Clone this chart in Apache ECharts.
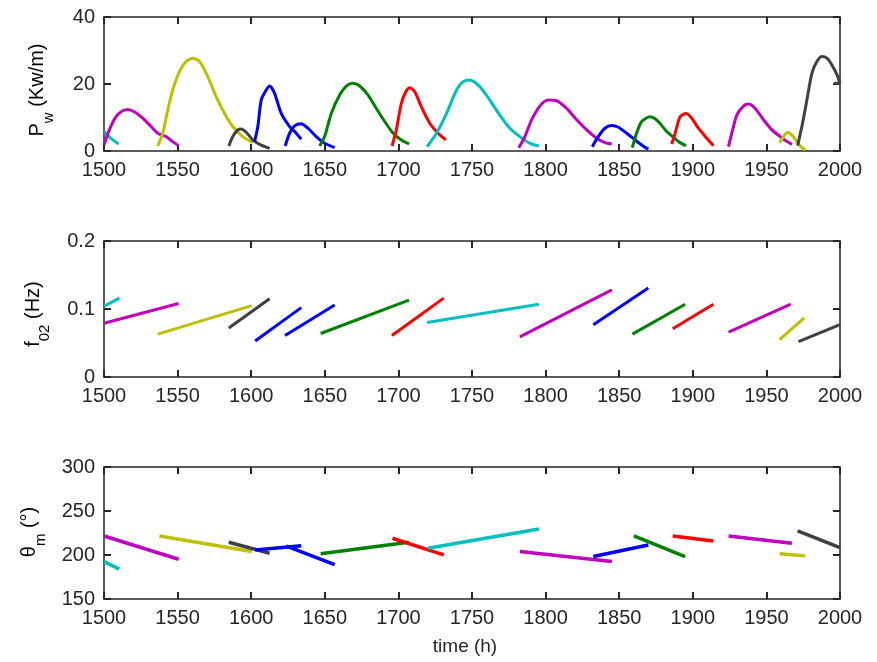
<!DOCTYPE html>
<html>
<head>
<meta charset="utf-8">
<script src="https://cdn.jsdelivr.net/npm/echarts@6/dist/echarts.min.js"></script>
<style>
  html, body { margin: 0; padding: 0; background: #fff; }
  #chart { width: 877px; height: 662px; }
</style>
</head>
<body>
<div id="chart"></div>
<script>
// Axis ranges: [min, max, interval]
const timeRange = [1500, 2000, 50];
const pwRange = [0, 40, 20];
const f02Range = [0, 0.2, 0.1];
const thetaRange = [150, 300, 50];

// Wave power P_w (kW/m) for each event: [hour, value]
const pwC1 = [[1500,5.8],[1504,4.0],[1510,2.1]];
const pwM1 = [[1500,1.8],[1503.6,6.3],[1508.1,10.2],[1512.7,12.0],[1516.1,12.4],[1520.6,11.7],[1526.3,9.8],[1532,7.3],[1536.5,5.3],[1542.2,4.3],[1546.7,2.8],[1550.7,1.6]];
const pwY1 = [[1536.5,1.5],[1539.9,5.3],[1543.3,12.2],[1546.7,18.2],[1551.2,23.7],[1555.8,26.7],[1560.3,27.7],[1564.9,26.7],[1570.5,22.2],[1576.2,16.2],[1581.9,11.2],[1587.5,7.3],[1594.3,4.3],[1601.1,2.5]];
const pwK1 = [[1584.8,1.5],[1587.5,4.3],[1590.9,6.3],[1593.2,6.6],[1596.6,5.6],[1601.1,3.3],[1605.7,2.0],[1612.5,0.8]];
const pwB1 = [[1602.3,2.8],[1604.5,7.3],[1606.8,15.2],[1610.2,18.2],[1612.5,19.4],[1615.9,17.2],[1620.4,11.2],[1626.1,7.3],[1630.6,5.3],[1634,3.5]];
const pwB2 = [[1623.1,1.5],[1626.1,5.3],[1629.5,7.5],[1634,8.1],[1638.5,6.8],[1644.2,4.3],[1649.9,2.3],[1656.7,1.0]];
const pwG1 = [[1646.5,1.5],[1649.9,4.3],[1654.4,11.2],[1660.1,16.7],[1664.6,19.4],[1669.2,20.2],[1673.7,19.4],[1679.4,16.7],[1685,12.7],[1690.7,8.8],[1696.4,5.3],[1702,3.3],[1707.3,2.1]];
const pwR1 = [[1695.7,1.5],[1698.6,6.3],[1702,14.2],[1705.4,18.0],[1707.7,18.9],[1711.1,17.7],[1715.6,13.2],[1721.3,8.3],[1727,5.3],[1732.2,3.3]];
const pwC2 = [[1719.5,1.3],[1725.9,5.3],[1732.7,11.2],[1739.5,18.2],[1744,20.7],[1748.5,21.2],[1755.3,19.2],[1762.1,15.2],[1768.9,10.7],[1775.7,6.8],[1782.5,4.3],[1789.3,2.3],[1795.4,1.5]];
const pwM2 = [[1781.8,1.0],[1785.9,4.3],[1790.5,9.3],[1796.1,13.4],[1801.8,15.2],[1807.5,15.0],[1814.3,12.7],[1821.1,9.3],[1827.9,6.3],[1834.7,3.8],[1840.3,2.5],[1844.9,2.1]];
const pwB3 = [[1831.7,1.3],[1835.8,4.3],[1840.3,6.8],[1844.9,7.6],[1849.4,7.1],[1855.1,5.3],[1860.8,3.3],[1865.3,1.8],[1869.8,0.5]];
const pwG2 = [[1858.9,1.0],[1861.8,5.3],[1865.3,8.8],[1870.9,10.2],[1876.6,8.8],[1882.3,5.8],[1886.8,4.1],[1891.3,2.5],[1895.4,1.6]];
const pwR2 = [[1885.7,2.1],[1888,5.3],[1891.4,10.2],[1895.4,11.2],[1899.3,9.8],[1903.8,6.8],[1909.5,3.8],[1914,1.6]];
const pwM3 = [[1924.2,1.3],[1926.5,5.3],[1929.9,10.7],[1934.4,13.4],[1937.9,14.0],[1942.4,12.7],[1948.1,9.3],[1953.7,6.3],[1959.4,4.3],[1964,2.8],[1967.3,2.0]];
const pwY2 = [[1958.9,2.5],[1961.6,4.3],[1964.4,5.6],[1967.3,4.8],[1970.7,2.8],[1973.4,1.3],[1976.4,0.3]];
const pwK2 = [[1971.2,1.6],[1974.1,7.3],[1977.5,15.2],[1980.9,23.2],[1984.3,26.7],[1987.7,28.2],[1991.1,27.7],[1994.5,25.7],[1998,22.7],[2000,20.2]];
const pwK2Tail = [[1996,20.2],[2000,20.2]];

// Peak frequency f02 (Hz) per event: [startHour, startValue, endHour, endValue]
const f02C1 = [1500, 0.104, 1510.4, 0.116];
const f02M1 = [1500, 0.079, 1550.7, 0.108];
const f02Y1 = [1536.5, 0.063, 1600.4, 0.105];
const f02K1 = [1584.8, 0.072, 1612.5, 0.115];
const f02B1 = [1602.7, 0.053, 1634, 0.102];
const f02B2 = [1623, 0.061, 1656.7, 0.106];
const f02G1 = [1647.2, 0.064, 1707.2, 0.113];
const f02R1 = [1695.6, 0.061, 1730.8, 0.116];
const f02C2 = [1719.5, 0.080, 1795.5, 0.107];
const f02M2 = [1782.5, 0.059, 1845, 0.128];
const f02B3 = [1832.4, 0.077, 1869.8, 0.131];
const f02G2 = [1859, 0.063, 1894.8, 0.107];
const f02R2 = [1886.4, 0.071, 1914, 0.107];
const f02M3 = [1924.3, 0.066, 1966.6, 0.107];
const f02Y2 = [1959, 0.055, 1975.7, 0.087];
const f02K2 = [1971.8, 0.052, 2000, 0.077];

// Mean direction theta_m (deg) per event: [startHour, startValue, endHour, endValue]
const thC1 = [1500, 192.5, 1510.4, 184];
const thM1 = [1500, 221.6, 1550.7, 195.2];
const thY1 = [1537.6, 221.6, 1600.4, 204];
const thK1 = [1584.8, 214.5, 1612.5, 202];
const thB1 = [1602.7, 205.8, 1634, 210.6];
const thB2 = [1624, 210, 1656.7, 189];
const thG1 = [1647.2, 201.3, 1707.2, 214.5];
const thR1 = [1696, 219, 1730.8, 200.1];
const thC2 = [1720, 207.7, 1795.5, 229.5];
const thM2 = [1782.5, 203.9, 1845, 192.5];
const thB3 = [1832.4, 198.2, 1869.8, 211.4];
const thG2 = [1860, 221.6, 1894.8, 198.2];
const thR2 = [1886.4, 221.6, 1914, 216];
const thM3 = [1924.3, 221.6, 1967.3, 213.3];
const thY2 = [1959, 201.3, 1976.4, 199];
const thK2 = [1971.2, 227.3, 2000, 208.3];

const pwEvents = [pwC1, pwM1, pwY1, pwK1, pwB1, pwB2, pwG1, pwR1, pwC2, pwM2, pwB3, pwG2, pwR2, pwM3, pwY2, pwK2, pwK2Tail];
const f02Events = [f02C1, f02M1, f02Y1, f02K1, f02B1, f02B2, f02G1, f02R1, f02C2, f02M2, f02B3, f02G2, f02R2, f02M3, f02Y2, f02K2];
const thEvents = [thC1, thM1, thY1, thK1, thB1, thB2, thG1, thR1, thC2, thM2, thB3, thG2, thR2, thM3, thY2, thK2];

// Line colours, one per event
const C = '#00BFBF', M = '#BF00BF', Y = '#BFBF00', K = '#404040', B = '#0000FF', G = '#008000', R = '#FF0000';
const eventColors = [C, M, Y, K, B, B, G, R, C, M, B, G, R, M, Y, K, K];

const FONT = 'Liberation Sans, Arial, sans-serif';
const INK = '#262626';

const grids = [
  { left: 104, top: 17, width: 736, height: 134 },
  { left: 104, top: 241, width: 736, height: 136 },
  { left: 104, top: 467, width: 736, height: 132 }
];

function plain(v) { return String(v); }

const axisLineStyle = { show: true, onZero: false, lineStyle: { color: INK, width: 1.5 } };
const axisTickStyle = { show: true, inside: true, length: 7, lineStyle: { color: INK, width: 2 } };

function xAxes(gi) {
  const base = {
    gridIndex: gi, type: 'value', min: timeRange[0], max: timeRange[1], interval: timeRange[2],
    axisLine: axisLineStyle, axisTick: axisTickStyle, splitLine: { show: false }
  };
  const bottom = Object.assign({}, base, {
    position: 'bottom',
    axisLabel: { show: true, margin: 9, fontSize: 20, fontFamily: FONT, color: INK, formatter: plain,
      showMinLabel: true, showMaxLabel: true, hideOverlap: false }
  });
  if (gi === 2) {
    Object.assign(bottom, {
      name: 'time (h)', nameLocation: 'middle', nameGap: 38,
      nameTextStyle: { fontSize: 19, fontFamily: FONT, color: INK, padding: [0, 14, 0, 0] }
    });
  }
  const top = Object.assign({}, base, { position: 'top', axisLabel: { show: false } });
  return [bottom, top];
}

function yAxes(gi, range) {
  const base = {
    gridIndex: gi, type: 'value', min: range[0], max: range[1], interval: range[2],
    axisLine: axisLineStyle, axisTick: axisTickStyle, splitLine: { show: false }
  };
  const left = Object.assign({}, base, {
    position: 'left',
    axisLabel: { show: true, margin: 9, fontSize: 20, fontFamily: FONT, color: INK, formatter: plain,
      showMinLabel: true, showMaxLabel: true }
  });
  const right = Object.assign({}, base, { position: 'right', axisLabel: { show: false } });
  return [left, right];
}

const xAxis = [].concat(xAxes(0), xAxes(1), xAxes(2));
const yAxis = [].concat(yAxes(0, pwRange), yAxes(1, f02Range), yAxes(2, thetaRange));

const series = [];
pwEvents.forEach(function (pts, i) {
  series.push({
    type: 'line', xAxisIndex: 0, yAxisIndex: 0, data: pts,
    showSymbol: false, smooth: 0.25, clip: true, silent: true,
    lineStyle: { color: eventColors[i], width: 3 }
  });
});
f02Events.forEach(function (s, i) {
  series.push({
    type: 'line', xAxisIndex: 2, yAxisIndex: 2, data: [[s[0], s[1]], [s[2], s[3]]],
    showSymbol: false, clip: true, silent: true,
    lineStyle: { color: eventColors[i], width: 3 }
  });
});
thEvents.forEach(function (s, i) {
  series.push({
    type: 'line', xAxisIndex: 4, yAxisIndex: 4, data: [[s[0], s[1]], [s[2], s[3]]],
    showSymbol: false, clip: true, silent: true,
    lineStyle: { color: eventColors[i], width: 3.5 }
  });
});

// Rotated y-axis titles with subscripts
function yTitle(x, y, main, sub, rest) {
  return {
    type: 'text', x: x, y: y, rotation: Math.PI / 2, silent: true,
    style: {
      text: '{a|' + main + '}{s|' + sub + '}{a|' + rest + '}',
      align: 'center', verticalAlign: 'middle',
      rich: {
        a: { fontSize: 20, fontFamily: FONT, color: INK, lineHeight: 38 },
        s: { fontSize: 15, fontFamily: FONT, color: INK, lineHeight: 14, verticalAlign: 'bottom' }
      }
    }
  };
}

const chart = echarts.init(document.getElementById('chart'), null, { renderer: 'canvas' });
chart.setOption({
  animation: false,
  backgroundColor: '#ffffff',
  grid: grids,
  xAxis: xAxis,
  yAxis: yAxis,
  series: series,
  graphic: [
    yTitle(37, 90, 'P', 'w', ' (Kw/m)'),
    yTitle(33, 314, 'f', '02', ' (Hz)'),
    yTitle(29, 532, 'θ', 'm', ' (°)')
  ]
});
</script>
</body>
</html>
